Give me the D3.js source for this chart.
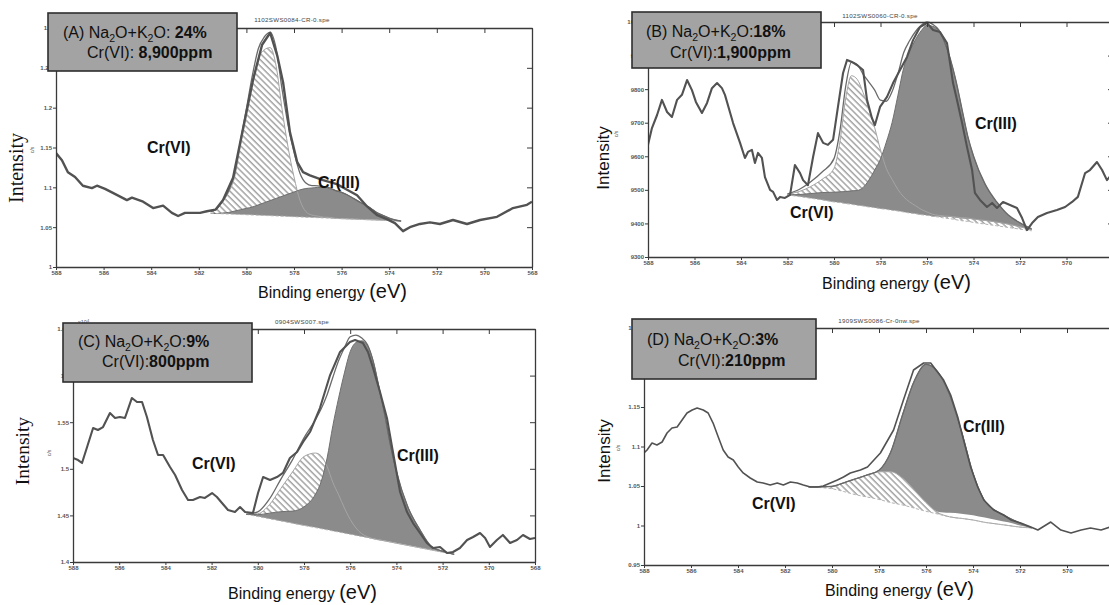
<!DOCTYPE html>
<html>
<head>
<meta charset="utf-8">
<script src="https://cdn.jsdelivr.net/npm/d3@7"></script>
<style>
  body { margin: 0; background: #fff; }
  svg { display: block; font-family: "Liberation Sans", Arial, sans-serif; }
  text { white-space: pre; }
</style>
</head>
<body>
<svg id="chart" width="1109" height="605"></svg>
<script>
// ---------- shared axis values ----------
const xTicks = [588, 586, 584, 582, 580, 578, 576, 574, 572, 570, 568];

// ---------- (A) Na2O+K2O 24 %, Cr(VI) 8,900 ppm ----------
const aYTicks = [1, 1.05, 1.1, 1.15, 1.2, 1.25, 1.3];
const aYLabels = ["1", "1.05", "1.1", "1.15", "1.2", "1.25", "1.3"];
const aRaw = [
  [588.00,1.143],[587.75,1.134],[587.50,1.119],[587.20,1.113],[586.87,1.102],[586.49,1.099],
  [586.28,1.102],[585.94,1.098],[585.61,1.093],[585.02,1.084],[584.81,1.087],[584.34,1.082],
  [583.92,1.074],[583.50,1.077],[583.13,1.068],[582.87,1.064],[582.58,1.068],[581.95,1.068],
  [581.66,1.070],[581.30,1.072],[580.98,1.084],[580.56,1.112],[580.14,1.174],[579.72,1.235],
  [579.34,1.279],[579.00,1.294],[578.71,1.266],[578.46,1.232],[578.17,1.169],[577.87,1.132],
  [577.62,1.119],[577.33,1.115],[576.78,1.109],[576.20,1.104],[575.77,1.097],[575.35,1.090],
  [574.93,1.076],[574.50,1.065],[574.10,1.060],[573.76,1.055],[573.42,1.045],[573.13,1.050],
  [572.71,1.054],[572.29,1.056],[571.87,1.054],[571.32,1.059],[570.73,1.054],[570.18,1.059],
  [569.47,1.063],[568.80,1.074],[568.21,1.078],[568.00,1.082]
];
const aGrid = [581.5,581.25,581,580.75,580.5,580.25,580,579.75,579.5,579.25,579,578.75,578.5,578.25,578,
  577.75,577.5,577.25,577,576.75,576.5,576.25,576,575.75,575.5,575.25,575,574.75,574.5,574.25,574,573.75,573.5];
const aBg = [1.0674,1.0671,1.0668,1.0665,1.0662,1.0659,1.0656,1.0653,1.0650,1.0647,1.0644,1.0641,1.0638,1.0635,1.0631,
  1.0628,1.0625,1.0622,1.0619,1.0616,1.0613,1.0610,1.0607,1.0604,1.0601,1.0598,1.0595,1.0592,1.0589,1.0586,1.0583,1.0580,1.0577];
const aCr6 = [0.002,0.006,0.015,0.027,0.046,0.086,0.125,0.165,0.196,0.208,0.211,0.188,0.134,0.087,0.050,
  0.021,0.007,0.003,0.002,0.001,0.001,0,0,0,0,0,0,0,0,0,0,0,0];
const aCr3 = [0,0,0.001,0.002,0.004,0.006,0.008,0.010,0.013,0.016,0.019,0.022,0.025,0.028,0.031,
  0.034,0.036,0.037,0.038,0.038,0.037,0.035,0.033,0.030,0.026,0.022,0.018,0.014,0.009,0.006,0.003,0.001,0];

// ---------- (B) Na2O+K2O 18 %, Cr(VI) 1,900 ppm ----------
const bYTicks = [9300, 9400, 9500, 9600, 9700, 9800, 9900, 10000];
const bYLabels = ["9300", "9400", "9500", "9600", "9700", "9800", "9900", "10000"];
const bRaw = [
  [588.00,9634],[587.83,9684],[587.61,9723],[587.40,9768],[587.18,9732],[586.97,9717],[586.75,9768],
  [586.54,9783],[586.32,9827],[586.11,9797],[585.94,9762],[585.68,9729],[585.46,9759],[585.25,9803],
  [585.03,9818],[584.82,9803],[584.69,9783],[584.34,9699],[584.04,9640],[583.83,9595],[583.70,9613],
  [583.53,9619],[583.40,9580],[583.27,9610],[583.10,9595],[582.97,9538],[582.75,9500],[582.62,9494],
  [582.45,9470],[582.32,9479],[582.11,9476],[581.89,9485],[581.68,9574],[581.46,9550],[581.33,9529],
  [581.12,9514],[580.90,9598],[580.69,9669],[580.47,9640],[580.26,9634],[580.04,9649],[579.83,9747],
  [579.61,9848],[579.44,9887],[579.23,9881],[579.01,9872],[578.75,9857],[578.58,9768],[578.37,9714],
  [578.24,9693],[578.02,9747],[577.72,9777],[577.46,9818],[577.16,9857],[576.86,9896],[576.60,9946],
  [576.30,9985],[576.00,9997],[575.74,9976],[575.44,9970],[575.14,9937],[575.01,9878],[574.88,9818],
  [574.71,9768],[574.49,9699],[574.28,9628],[574.06,9559],[573.94,9491],[573.72,9470],[573.42,9449],
  [573.20,9461],[572.99,9446],[572.73,9464],[572.43,9455],[572.13,9446],[571.91,9416],[571.70,9380],
  [571.48,9401],[571.23,9419],[570.84,9431],[570.41,9440],[570.06,9449],[569.76,9464],[569.51,9479],
  [569.20,9550],[568.99,9559],[568.69,9583],[568.47,9559],[568.26,9529],[568.00,9550]
];
const bGrid = [582,581.5,581,580.5,580,579.75,579.5,579.25,579,578.75,578.5,578.25,578,577.75,577.5,577.25,
  577,576.75,576.5,576.25,576,575.75,575.5,575.25,575,574.75,574.5,574.25,574,573.5,573,572.5,572,571.5];
const bBg = [9485,9480,9475,9470,9464,9462,9459,9457,9454,9452,9449,9447,9444,9442,9439,9437,
  9434,9431,9429,9426,9424,9421,9419,9416,9414,9411,9408,9406,9403,9398,9393,9388,9383,9378];
const bCr6 = [3,15,35,62,100,180,312,383,375,338,292,238,175,122,92,64,
  45,33,24,16,10,6,5,6,7,8,9,10,10,11,11,10,7,3];
const bCr3 = [0,6,14,22,29,32,36,40,44,55,80,112,148,200,262,345,
  430,480,518,548,566,566,553,520,470,405,325,245,188,108,60,27,12,3];
const bBase = [0,0,0,0,0,0,0,0,0,0,0,0,0,0,0,0,
  0,0,0,0,0,0,2,4,5,6,7,8,9,10,10,9,6,2];

// ---------- (C) Na2O+K2O 9 %, Cr(VI) 800 ppm ----------
const cYTicks = [1.4, 1.45, 1.5, 1.55, 1.6, 1.65];
const cYLabels = ["1.4", "1.45", "1.5", "1.55", "1.6", "1.65"];
const cRaw = [
  [588.00,1.5116],[587.78,1.5094],[587.61,1.5062],[587.39,1.5234],[587.13,1.5438],[586.92,1.5416],
  [586.70,1.5448],[586.40,1.5599],[586.18,1.5545],[585.97,1.5556],[585.75,1.5545],[585.45,1.5760],
  [585.23,1.5717],[585.01,1.5717],[584.80,1.5556],[584.54,1.5309],[584.32,1.5148],[584.10,1.5148],
  [583.80,1.5019],[583.58,1.4933],[583.28,1.4773],[583.02,1.4665],[582.81,1.4665],[582.50,1.4697],
  [582.29,1.4687],[581.98,1.4740],[581.77,1.4697],[581.55,1.4633],[581.29,1.4558],[580.99,1.4536],
  [580.77,1.4590],[580.55,1.4536],[580.21,1.4526],[579.99,1.4740],[579.77,1.4912],[579.47,1.4880],
  [579.17,1.4912],[578.91,1.4955],[578.61,1.5116],[578.30,1.5180],[578.04,1.5288],[577.74,1.5395],
  [577.31,1.5652],[576.87,1.6006],[576.44,1.6253],[576.01,1.6361],[575.79,1.6382],[575.45,1.6350],
  [575.23,1.6253],[575.01,1.6082],[574.71,1.5824],[574.41,1.5545],[574.15,1.5180],[573.84,1.4751],
  [573.54,1.4536],[573.28,1.4418],[572.98,1.4311],[572.68,1.4204],[572.42,1.4150],[572.11,1.4161],
  [571.81,1.4097],[571.55,1.4107],[571.25,1.4150],[570.94,1.4236],[570.68,1.4268],[570.38,1.4311],
  [570.16,1.4258],[569.95,1.4161],[569.65,1.4236],[569.39,1.4290],[569.08,1.4204],[568.78,1.4236],
  [568.52,1.4290],[568.22,1.4247],[568.00,1.4258]
];
const cGrid = [580.5,580,579.5,579,578.5,578,577.5,577.25,577,576.75,576.5,576.25,576,575.75,575.5,575.25,
  575,574.75,574.5,574.25,574,573.5,573,572.5,572,571.5];
const cBg = [1.4512,1.4488,1.4464,1.4440,1.4416,1.4392,1.4369,1.4357,1.4345,1.4333,1.4321,1.4309,1.4297,1.4285,1.4273,1.4261,
  1.4249,1.4237,1.4226,1.4214,1.4202,1.4178,1.4154,1.4130,1.4106,1.4083];
const cCr6 = [0,0.003,0.015,0.035,0.055,0.074,0.080,0.078,0.068,0.052,0.040,0.027,0.016,0.008,0.003,0.001,
  0,0,0,0,0,0,0,0,0,0];
const cCr3 = [0,0.002,0.006,0.010,0.013,0.020,0.036,0.051,0.077,0.113,0.144,0.172,0.196,0.207,0.210,0.206,
  0.190,0.163,0.135,0.103,0.077,0.041,0.020,0.004,0.001,0];

// ---------- (D) Na2O+K2O 3 %, Cr(VI) 210 ppm ----------
const dYTicks = [0.95, 1, 1.05, 1.1, 1.15, 1.2, 1.25];
const dYLabels = ["0.95", "1", "1.05", "1.1", "1.15", "1.2", "1.25"];
const dRaw = [
  [588.00,1.0918],[587.87,1.0956],[587.66,1.1044],[587.45,1.1019],[587.23,1.1057],[587.02,1.1171],
  [586.81,1.1234],[586.59,1.1247],[586.38,1.1335],[586.17,1.1424],[585.95,1.1462],[585.74,1.1487],
  [585.48,1.1462],[585.27,1.1424],[585.06,1.1297],[584.84,1.1120],[584.63,1.0956],[584.42,1.0867],
  [584.20,1.0829],[583.99,1.0741],[583.78,1.0665],[583.48,1.0601],[583.18,1.0551],[582.93,1.0538],
  [582.63,1.0513],[582.33,1.0538],[582.07,1.0513],[581.77,1.0551],[581.48,1.0538],[581.22,1.0513],
  [580.92,1.0487],[580.62,1.0487],[580.37,1.0500],[580.07,1.0538],[579.77,1.0576],[579.51,1.0614],
  [579.22,1.0665],[578.79,1.0703],[578.49,1.0741],[577.94,1.0918],[577.38,1.1209],[576.96,1.1589],
  [576.53,1.1968],[576.10,1.2057],[575.80,1.2057],[575.51,1.1943],[575.25,1.1842],[574.95,1.1652],
  [574.65,1.1373],[574.40,1.1082],[574.10,1.0741],[573.80,1.0487],[573.54,1.0323],[573.12,1.0196],
  [572.69,1.0133],[572.39,1.0070],[571.97,1.0032],[571.54,0.9980],[571.24,0.9943],[570.69,1.0044],
  [570.26,0.9943],[569.83,0.9905],[569.40,0.9943],[569.00,0.9968],[568.55,0.9943],[568.17,0.9980],
  [568.00,0.9970]
];
const dGrid = [581,580.5,580,579.5,579,578.5,578,577.5,577,576.5,576,575.5,575,574.5,574,573.5,573,572.5,572,571.5];
const dBg = [1.049,1.048,1.0465,1.043,1.039,1.036,1.033,1.029,1.026,1.022,1.018,1.0145,1.011,1.009,1.007,1.004,1.002,1.000,0.998,0.997];
const dCr6 = [0,0.001,0.003,0.011,0.020,0.028,0.035,0.039,0.034,0.023,0.011,0.002,0,0,0,0,0,0,0,0];
const dCr3 = [0,0,0,0,0,0,0.002,0.025,0.080,0.138,0.175,0.177,0.150,0.105,0.053,0.021,0.011,0.006,0.003,0];
const dBase = [0,0.001,0.003,0.011,0.020,0.028,0.035,0.039,0.034,0.023,0.011,0.003,0.005,0.006,0.006,0.006,0.005,0.004,0.002,0];

// ---------- drawing ----------
const W = 1109;
const svg = d3.select("#chart");
const defs = svg.append("defs");

const hatch = defs.append("pattern")
  .attr("id", "hatch")
  .attr("patternUnits", "userSpaceOnUse")
  .attr("width", 4.4).attr("height", 4.4)
  .attr("patternTransform", "rotate(-45)");
hatch.append("rect").attr("width", 4.4).attr("height", 4.4).attr("fill", "#fff");
hatch.append("line").attr("x1", 1).attr("y1", 0).attr("x2", 1).attr("y2", 4.4)
  .attr("stroke", "#9d9d9d").attr("stroke-width", 1.4);

const panels = [
  {
    key: "A", left: 56, right: 532, top: 28, bottom: 267, yDomain: [1, 1.3],
    yTicks: aYTicks, yLabels: aYLabels, raw: aRaw, grid: aGrid, bg: aBg, cr6: aCr6, cr3: aCr3, base: null,
    rawWidth: 2.4, file: "1102SWS0084-CR-0.spe", fileX: 292, fileY: 22,
    ylabel: { x: 23, y: 168, serif: true, size: 20 }, cs: { x: 34, y: 150 },
    box: { x: 48, y: 13, w: 189, h: 58 },
    line1: { x: 63, y: 38, parts: [["(A) Na"], ["2", "sub"], ["O+K"], ["2", "sub"], ["O: "], ["24%", "b"]] },
    line2: { x: 87, y: 58, parts: [["Cr(VI): "], ["8,900ppm", "b"]] },
    cr6Label: { x: 147, y: 153 }, cr3Label: { x: 318, y: 188 },
    xlabel: { x: 258, y: 298 }
  },
  {
    key: "B", left: 648, right: 1113, top: 22, bottom: 257, yDomain: [9300, 10000],
    yTicks: bYTicks, yLabels: bYLabels, raw: bRaw, grid: bGrid, bg: bBg, cr6: bCr6, cr3: bCr3, base: bBase,
    rawWidth: 2.1, file: "1102SWS0060-CR-0.spe", fileX: 880, fileY: 18,
    ylabel: { x: 609, y: 158, serif: false, size: 17 }, cs: { x: 618, y: 134 },
    box: { x: 632, y: 12, w: 189, h: 56 },
    line1: { x: 646, y: 37, parts: [["(B) Na"], ["2", "sub"], ["O+K"], ["2", "sub"], ["O:"], ["18%", "b"]] },
    line2: { x: 670, y: 58, parts: [["Cr(VI):"], ["1,900ppm", "b"]] },
    cr6Label: { x: 790, y: 218 }, cr3Label: { x: 975, y: 129 },
    xlabel: { x: 822, y: 289 }
  },
  {
    key: "C", left: 73, right: 535, top: 329, bottom: 562, yDomain: [1.4, 1.65],
    yTicks: cYTicks, yLabels: cYLabels, raw: cRaw, grid: cGrid, bg: cBg, cr6: cCr6, cr3: cCr3, base: null,
    rawWidth: 2.1, file: "0904SWS007.spe", fileX: 302, fileY: 324,
    ylabel: { x: 29, y: 451, serif: true, size: 19.5 }, cs: { x: 51, y: 453 },
    box: { x: 63, y: 323, w: 189, h: 59 },
    line1: { x: 78, y: 347, parts: [["(C) Na"], ["2", "sub"], ["O+K"], ["2", "sub"], ["O:"], ["9%", "b"]] },
    line2: { x: 102, y: 367, parts: [["Cr(VI):"], ["800ppm", "b"]] },
    cr6Label: { x: 192, y: 469 }, cr3Label: { x: 397, y: 461 },
    xlabel: { x: 228, y: 599 }, exponent: { x: 78, y: 324 }
  },
  {
    key: "D", left: 644, right: 1114, top: 328, bottom: 565, yDomain: [0.95, 1.25],
    yTicks: dYTicks, yLabels: dYLabels, raw: dRaw, grid: dGrid, bg: dBg, cr6: dCr6, cr3: dCr3, base: dBase,
    rawWidth: 1.6, file: "1909SWS0086-Cr-0nw.spe", fileX: 879, fileY: 323,
    ylabel: { x: 610, y: 451, serif: false, size: 17 }, cs: { x: 620, y: 448 },
    box: { x: 632, y: 319, w: 184, h: 60 },
    line1: { x: 647, y: 345, parts: [["(D) Na"], ["2", "sub"], ["O+K"], ["2", "sub"], ["O:"], ["3%", "b"]] },
    line2: { x: 678, y: 366, parts: [["Cr(VI):"], ["210ppm", "b"]] },
    cr6Label: { x: 752, y: 509 }, cr3Label: { x: 963, y: 432 },
    xlabel: { x: 825, y: 596 }
  }
];

function richText(g, spec, size) {
  const t = g.append("text").attr("x", spec.x).attr("y", spec.y)
    .attr("font-size", size).attr("fill", "#111");
  let shifted = false;
  spec.parts.forEach(([str, kind]) => {
    const s = t.append("tspan").text(str);
    if (kind === "sub") {
      s.attr("font-size", size * 0.66).attr("dy", size * 0.22);
      shifted = true;
    } else {
      if (shifted) { s.attr("dy", -size * 0.22); shifted = false; }
      if (kind === "b") s.attr("font-weight", "bold");
    }
  });
}

panels.forEach(p => {
  const g = svg.append("g").attr("class", "panel-" + p.key);
  const x = d3.scaleLinear().domain([588, 568]).range([p.left, p.right]);
  const y = d3.scaleLinear().domain(p.yDomain).range([p.bottom, p.top]);

  const clipId = "clip" + p.key;
  defs.append("clipPath").attr("id", clipId).append("rect")
    .attr("x", p.left).attr("y", p.top - 1)
    .attr("width", p.right - p.left).attr("height", p.bottom - p.top + 1);

  const rows = p.grid.map((e, i) => {
    const base = p.base ? p.base[i] : 0;
    return {
      e,
      bg: p.bg[i],
      cr6: p.bg[i] + p.cr6[i],
      lo3: p.bg[i] + base,
      hi3: p.bg[i] + base + p.cr3[i],
      env: p.bg[i] + Math.max(p.cr6[i], base) + p.cr3[i]
    };
  });

  const plot = g.append("g").attr("clip-path", `url(#${clipId})`);
  const smooth = d3.curveMonotoneX;

  // Cr(VI) component (hatched)
  plot.append("path").datum(rows)
    .attr("d", d3.area().curve(smooth).x(d => x(d.e)).y0(d => y(d.bg)).y1(d => y(d.cr6)))
    .attr("fill", "url(#hatch)");
  // Cr(III) component (solid grey)
  plot.append("path").datum(rows)
    .attr("d", d3.area().curve(smooth).x(d => x(d.e)).y0(d => y(d.lo3)).y1(d => y(d.hi3)))
    .attr("fill", "#8b8b8b");
  // component outlines
  plot.append("path").datum(rows)
    .attr("d", d3.line().curve(smooth).x(d => x(d.e)).y(d => y(d.cr6)))
    .attr("fill", "none").attr("stroke", "#a5a5a5").attr("stroke-width", 1);
  plot.append("path").datum(rows)
    .attr("d", d3.line().curve(smooth).x(d => x(d.e)).y(d => y(d.hi3)))
    .attr("fill", "none").attr("stroke", "#6f6f6f").attr("stroke-width", 1);
  // background
  plot.append("path").datum(rows)
    .attr("d", d3.line().curve(smooth).x(d => x(d.e)).y(d => y(d.bg)))
    .attr("fill", "none").attr("stroke", "#b4b4b4").attr("stroke-width", 1)
    .attr("stroke-dasharray", "3,2");
  // fitted envelope
  plot.append("path").datum(rows)
    .attr("d", d3.line().curve(smooth).x(d => x(d.e)).y(d => y(d.env)))
    .attr("fill", "none").attr("stroke", "#6a6a6a").attr("stroke-width", 1.3);
  // measured spectrum
  plot.append("path").datum(p.raw)
    .attr("d", d3.line().x(d => x(d[0])).y(d => y(d[1])))
    .attr("fill", "none").attr("stroke", "#525252")
    .attr("stroke-width", p.rawWidth).attr("stroke-linejoin", "round");

  // axes
  const styleAxis = sel => {
    sel.select(".domain").attr("stroke", "#3a3a3a").attr("stroke-width", 1.3);
    sel.selectAll(".tick line").attr("stroke", "#3a3a3a").attr("stroke-width", 1);
    sel.selectAll(".tick text").attr("font-size", 6).attr("fill", "#555")
      .attr("font-family", "'Liberation Sans', Arial, sans-serif").attr("font-weight", "bold");
  };
  // energy labels only where they fit inside the page
  const xTickFormat = d => (x(d) > W - 6 ? "" : d3.format("d")(d));
  g.append("g").attr("transform", `translate(0,${p.bottom})`)
    .call(d3.axisBottom(x).tickValues(xTicks).tickSize(3).tickSizeOuter(0).tickPadding(1).tickFormat(xTickFormat))
    .call(styleAxis);
  g.append("g").attr("transform", `translate(0,${p.top})`)
    .call(d3.axisTop(x).tickValues(xTicks).tickSize(-5).tickSizeOuter(0).tickFormat(""))
    .call(styleAxis);
  g.append("g").attr("transform", `translate(${p.left},0)`)
    .call(d3.axisLeft(y).tickValues(p.yTicks).tickSize(3).tickSizeOuter(0).tickPadding(1)
      .tickFormat((d, i) => p.yLabels[i]))
    .call(styleAxis);
  g.append("g").attr("transform", `translate(${p.right},0)`)
    .call(d3.axisRight(y).tickValues(p.yTicks).tickSize(-5).tickSizeOuter(0).tickFormat(""))
    .call(styleAxis);

  // file name above the frame
  g.append("text").attr("x", p.fileX).attr("y", p.fileY).attr("text-anchor", "middle")
    .attr("font-size", 6.2).attr("fill", "#444").attr("letter-spacing", 0.3).text(p.file);

  if (p.exponent) {
    const ex = g.append("text").attr("x", p.exponent.x).attr("y", p.exponent.y)
      .attr("font-size", 5.5).attr("fill", "#555");
    ex.append("tspan").text("x10");
    ex.append("tspan").attr("dy", -2.5).attr("font-size", 4).text("4");
  }

  // y-axis title
  g.append("text")
    .attr("transform", `translate(${p.ylabel.x},${p.ylabel.y}) rotate(-90)`)
    .attr("text-anchor", "middle")
    .attr("font-family", p.ylabel.serif ? "'Liberation Serif', 'Times New Roman', serif" : "'Liberation Sans', Arial, sans-serif")
    .attr("font-size", p.ylabel.size).attr("fill", "#111").text("Intensity");
  g.append("text")
    .attr("transform", `translate(${p.cs.x},${p.cs.y}) rotate(-90)`)
    .attr("text-anchor", "middle").attr("font-size", 5).attr("fill", "#555").text("c/s");

  // x-axis title
  const xl = g.append("text").attr("x", p.xlabel.x).attr("y", p.xlabel.y)
    .attr("font-size", 16).attr("fill", "#111");
  xl.append("tspan").text("Binding energy ");
  xl.append("tspan").attr("font-size", 20).text("(eV)");

  // component labels
  g.append("text").attr("x", p.cr6Label.x).attr("y", p.cr6Label.y)
    .attr("font-size", 16).attr("font-weight", "bold").attr("fill", "#111").text("Cr(VI)");
  g.append("text").attr("x", p.cr3Label.x).attr("y", p.cr3Label.y)
    .attr("font-size", 16).attr("font-weight", "bold").attr("fill", "#111").text("Cr(III)");

  // composition box
  g.append("rect").attr("x", p.box.x).attr("y", p.box.y)
    .attr("width", p.box.w).attr("height", p.box.h)
    .attr("fill", "#a3a3a3").attr("stroke", "#2e2e2e").attr("stroke-width", 1.6);
  richText(g, p.line1, 16);
  richText(g, p.line2, 16);
});
</script>
</body>
</html>
